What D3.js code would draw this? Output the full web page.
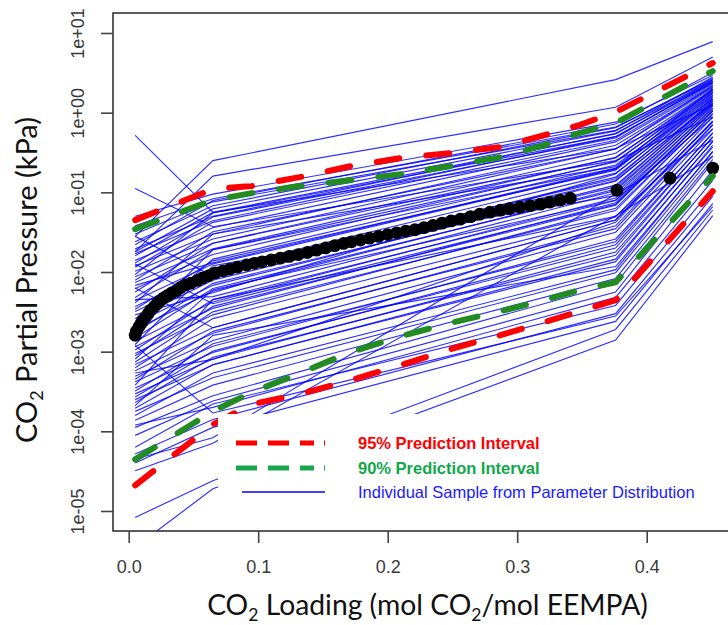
<!DOCTYPE html>
<html>
<head>
<meta charset="utf-8">
<script src="https://cdn.jsdelivr.net/npm/d3@7"></script>
<style>
  body { margin: 0; background: #fff; }
  svg { display: block; }
</style>
</head>
<body>
<svg id="chart" width="728" height="625"></svg>
<script>
// ---- axis ticks ----
const xTicks = [0, 0.1, 0.2, 0.3, 0.4];
const xTickLabels = ["0.0", "0.1", "0.2", "0.3", "0.4"];
const yTicks = [1e-5, 1e-4, 1e-3, 1e-2, 1e-1, 1, 10];
const yTickLabels = ["1e-05", "1e-04", "1e-03", "1e-02", "1e-01", "1e+00", "1e+01"];

// ---- individual parameter samples: CO2 partial pressure (kPa) at each loading ----
const sampleLoading = [0.005, 0.065, 0.376, 0.451];
const samplePressure = [
  [2.8e-2, 0.25, 2.6, 7.8],
  [1.8e-2, 0.16, 1.17, 5.0],
  [0.52, 5.6e-2, 0.355, 1.26],
  [0.112, 3.7e-2, 0.25, 0.89],
  [5.0e-2, 9.5e-2, 0.76, 2.95],
  [3.8e-2, 8.3e-2, 0.66, 2.6],
  [3.0e-2, 7.6e-2, 0.60, 2.5],
  [2.8e-2, 8.9e-3, 0.141, 1.32],
  [1.26e-2, 4.0e-3, 7.1e-2, 1.05],
  [6.3e-3, 2.0e-3, 4.5e-2, 0.76],
  [2.4e-2, 6.8e-2, 0.65, 2.7],
  [2.2e-2, 7.9e-2, 0.72, 3.2],
  [1.95e-2, 5.0e-2, 0.55, 2.45],
  [1.8e-2, 6.2e-2, 0.59, 2.8],
  [1.7e-2, 4.4e-2, 0.50, 2.4],
  [1.6e-2, 5.6e-2, 0.54, 2.6],
  [1.4e-2, 3.6e-2, 0.43, 2.2],
  [1.3e-2, 4.9e-2, 0.48, 2.5],
  [1.2e-2, 3.0e-2, 0.39, 2.1],
  [1.15e-2, 4.2e-2, 0.45, 2.3],
  [1.02e-2, 2.6e-2, 0.35, 2.05],
  [9.3e-3, 5.5e-2, 0.50, 2.35],
  [8.7e-3, 2.3e-2, 0.31, 1.95],
  [7.9e-3, 3.2e-2, 0.35, 2.2],
  [7.4e-3, 1.95e-2, 0.275, 1.85],
  [6.8e-3, 1.3e-2, 0.20, 2.0],
  [6.2e-3, 1.66e-2, 0.245, 1.78],
  [5.6e-3, 2.3e-2, 0.27, 1.95],
  [2.0e-3, 1.45e-2, 0.22, 1.66],
  [4.8e-3, 1.9e-2, 0.24, 1.9],
  [4.4e-3, 1.26e-2, 0.195, 1.6],
  [4.1e-3, 3.0e-2, 0.21, 1.8],
  [3.7e-3, 1.07e-2, 0.174, 1.5],
  [3.4e-3, 1.38e-2, 0.19, 1.74],
  [3.2e-3, 9.3e-3, 0.155, 1.45],
  [2.9e-3, 5.5e-3, 0.17, 1.65],
  [2.6e-3, 7.9e-3, 0.138, 1.38],
  [2.45e-3, 1.0e-2, 0.148, 1.55],
  [2.24e-3, 6.8e-3, 0.123, 1.32],
  [2.04e-3, 1.9e-2, 0.20, 1.48],
  [1.9e-3, 5.75e-3, 0.11, 1.26],
  [1.74e-3, 7.2e-3, 0.117, 1.41],
  [4.5e-3, 4.9e-3, 9.8e-2, 1.2],
  [1.48e-3, 6.2e-3, 0.105, 1.3],
  [1.35e-3, 4.2e-3, 8.5e-2, 1.12],
  [1.23e-3, 1.2e-2, 9.1e-2, 1.23],
  [1.15e-3, 3.5e-3, 7.4e-2, 1.05],
  [1.05e-3, 4.5e-3, 7.9e-2, 1.15],
  [9.5e-4, 2.9e-3, 6.3e-2, 0.95],
  [8.9e-4, 3.7e-3, 6.9e-2, 1.07],
  [8.1e-4, 6.0e-3, 8.0e-2, 0.87],
  [7.4e-4, 3.16e-3, 5.9e-2, 0.98],
  [6.9e-4, 2.0e-3, 4.5e-2, 0.78],
  [6.3e-4, 2.6e-3, 4.9e-2, 0.88],
  [5.75e-4, 1.7e-3, 3.8e-2, 0.71],
  [5.4e-4, 8.0e-4, 4.2e-2, 0.79],
  [4.9e-4, 1.38e-3, 3.16e-2, 0.62],
  [4.5e-4, 1.8e-3, 3.5e-2, 0.70],
  [4.2e-4, 1.17e-3, 2.6e-2, 0.55],
  [3.8e-4, 4.5e-3, 5.0e-2, 0.63],
  [3.5e-4, 9.8e-4, 2.2e-2, 0.49],
  [3.2e-4, 1.26e-3, 2.4e-2, 0.56],
  [2.95e-4, 8.1e-4, 1.78e-2, 0.43],
  [2.7e-4, 1.02e-3, 2.0e-2, 0.50],
  [2.5e-4, 6.8e-4, 1.45e-2, 0.37],
  [2.3e-4, 8.5e-4, 1.62e-2, 0.44],
  [2.1e-4, 1.6e-3, 1.17e-2, 0.32],
  [1.95e-4, 6.9e-4, 1.35e-2, 0.39],
  [1.78e-4, 4.7e-4, 9.8e-3, 0.29],
  [1.58e-4, 5.4e-4, 1.07e-2, 0.33],
  [1.38e-4, 3.8e-4, 8.3e-3, 0.26],
  [1.12e-4, 2.8e-4, 7.1e-3, 0.24],
  [8.9e-5, 2.4e-4, 5.6e-3, 0.19],
  [1.2e-4, 2.0e-4, 4.8e-3, 0.141],
  [6.3e-5, 2.2e-4, 3.8e-3, 0.112],
  [5.2e-5, 1.41e-4, 3.0e-3, 8.9e-2],
  [4.0e-5, 1.12e-4, 2.4e-3, 7.2e-2],
  [1.2e-3, 1.7e-4, 2.8e-3, 6.6e-2],
  [4.5e-5, 8.3e-5, 9.5e-2, 0.45],
  [3.2e-5, 7.1e-5, 5.1e-2, 0.28],
  [8.3e-6, 2.4e-5, 1.9e-3, 6.0e-2],
  [3.5e-6, 1.9e-5, 1.4e-3, 5.1e-2]
];

// ---- prediction interval bounds (kPa) ----
const bandLoading = [0.005, 0.065, 0.095, 0.132, 0.171, 0.21, 0.248, 0.287, 0.321, 0.348, 0.376, 0.451];
const upper95 = [4.48e-2, 0.110, 0.120, 0.155, 0.213, 0.269, 0.311, 0.370, 0.523, 0.699, 1.02, 4.20];
const upper90 = [3.45e-2, 7.98e-2, 9.77e-2, 0.120, 0.142, 0.169, 0.213, 0.277, 0.392, 0.554, 0.740, 3.33];
const lower90 = [4.45e-5, 1.78e-4, 3.09e-4, 5.36e-4, 9.82e-4, 1.56e-3, 2.28e-3, 3.22e-3, 4.43e-3, 5.91e-3, 7.45e-3, 0.160];
const lower95 = [2.10e-5, 1.22e-4, 2.18e-4, 2.92e-4, 4.37e-4, 6.75e-4, 1.07e-3, 1.61e-3, 2.34e-3, 3.22e-3, 4.43e-3, 0.1035];

// ---- measured equilibrium data ----
const measuredLoading = [
  0.005, 0.006, 0.008, 0.010, 0.011, 0.013, 0.015, 0.017, 0.020, 0.022, 0.024, 0.027,
  0.030, 0.033, 0.037, 0.040, 0.044, 0.048, 0.053, 0.057, 0.062, 0.067, 0.073, 0.078,
  0.084, 0.091, 0.097, 0.103, 0.110, 0.117, 0.124, 0.131, 0.138, 0.145, 0.152, 0.159,
  0.166, 0.172, 0.179, 0.186, 0.193, 0.200, 0.207, 0.214, 0.221, 0.228, 0.235, 0.242,
  0.249, 0.256, 0.264, 0.271, 0.279, 0.287, 0.294, 0.302, 0.310, 0.318, 0.325, 0.333,
  0.341, 0.377, 0.418, 0.451
];
const measuredPressure = [
  1.61e-3, 1.82e-3, 2.07e-3, 2.30e-3, 2.50e-3, 2.71e-3, 3.00e-3, 3.33e-3, 3.70e-3, 4.01e-3, 4.30e-3, 4.71e-3,
  5.05e-3, 5.42e-3, 5.84e-3, 6.37e-3, 6.91e-3, 7.23e-3, 7.84e-3, 8.41e-3, 9.02e-3, 9.77e-3, 1.035e-2, 1.084e-2,
  1.152e-2, 1.225e-2, 1.286e-2, 1.343e-2, 1.415e-2, 1.490e-2, 1.570e-2, 1.655e-2, 1.758e-2, 1.879e-2, 2.003e-2, 2.140e-2,
  2.281e-2, 2.395e-2, 2.523e-2, 2.659e-2, 2.800e-2, 2.951e-2, 3.107e-2, 3.265e-2, 3.390e-2, 3.600e-2, 3.840e-2, 4.105e-2,
  4.375e-2, 4.606e-2, 4.955e-2, 5.321e-2, 5.640e-2, 5.970e-2, 6.237e-2, 6.513e-2, 6.80e-2, 7.11e-2, 7.53e-2, 7.98e-2,
  8.45e-2, 0.1064, 0.1507, 0.2014
];

const legendLabels = ["95% Prediction Interval", "90% Prediction Interval", "Individual Sample from Parameter Distribution"];

// ---- layout ----
const plot = { left: 113, top: 13, right: 732, bottom: 531 };
const RED = "#ff0000", GREEN = "#228b22", BLUE = "#0000ff";
const TICK_FONT = "'Liberation Sans', Arial, sans-serif";
const TITLE_FONT = "Lato, 'Open Sans', sans-serif";

const svg = d3.select("#chart");

const x = d3.scaleLinear().domain([-0.01212, 0.46587]).range([plot.left, plot.right]);
const y = d3.scaleLog().domain([5.607e-6, 17.835]).range([plot.bottom, plot.top]);

svg.append("defs").append("clipPath").attr("id", "plot-clip")
  .append("rect")
  .attr("x", plot.left).attr("y", plot.top)
  .attr("width", plot.right - plot.left).attr("height", plot.bottom - plot.top);

const body = svg.append("g").attr("clip-path", "url(#plot-clip)");

// sample curves
const sampleLine = d3.line().x((d, i) => x(sampleLoading[i])).y(d => y(d));
body.append("g")
  .selectAll("path")
  .data(samplePressure)
  .join("path")
  .attr("d", sampleLine)
  .attr("fill", "none")
  .attr("stroke", BLUE)
  .attr("stroke-opacity", 0.82)
  .attr("stroke-width", 1.15);

// measured points
body.append("g")
  .selectAll("circle")
  .data(measuredPressure)
  .join("circle")
  .attr("cx", (d, i) => x(measuredLoading[i]))
  .attr("cy", d => y(d))
  .attr("r", 6.4)
  .attr("fill", "#000");

// prediction interval bounds
const bandLine = d3.line().x((d, i) => x(bandLoading[i])).y(d => y(d));
[[upper95, RED], [lower95, RED], [upper90, GREEN], [lower90, GREEN]].forEach(([vals, col]) => {
  body.append("path")
    .attr("d", bandLine(vals))
    .attr("fill", "none")
    .attr("stroke", col)
    .attr("stroke-width", 6)
    .attr("stroke-linecap", "round")
    .attr("stroke-dasharray", "23,27");
});

// frame
svg.append("rect")
  .attr("x", plot.left).attr("y", plot.top)
  .attr("width", plot.right - plot.left).attr("height", plot.bottom - plot.top)
  .attr("fill", "none").attr("stroke", "#333").attr("stroke-width", 1.6);

// x axis
const xAxis = svg.append("g")
  .attr("transform", `translate(0,${plot.bottom})`)
  .call(d3.axisBottom(x).tickValues(xTicks).tickSize(12).tickFormat((d, i) => xTickLabels[i]));
xAxis.select(".domain").remove();
xAxis.selectAll(".tick line").attr("stroke", "#444").attr("stroke-width", 1.6);
xAxis.selectAll(".tick text")
  .attr("y", 0).attr("dy", null)
  .attr("transform", "translate(0,42)")
  .attr("fill", "#3a3a3a")
  .style("font-family", TICK_FONT).style("font-size", "18px");

// y axis
const yAxis = svg.append("g")
  .attr("transform", `translate(${plot.left},0)`)
  .call(d3.axisLeft(y).tickValues(yTicks).tickSize(12).tickFormat((d, i) => yTickLabels[i]));
yAxis.select(".domain").remove();
yAxis.selectAll(".tick line").attr("stroke", "#444").attr("stroke-width", 1.6);
yAxis.selectAll(".tick text")
  .attr("x", 0).attr("dy", null)
  .attr("text-anchor", "middle")
  .attr("transform", "translate(-29,0) rotate(-90)")
  .attr("fill", "#3a3a3a")
  .style("font-family", TICK_FONT).style("font-size", "18px");

// axis titles with subscripts, sized to their span
function titleText(g, parts, fs) {
  g.selectAll("*").remove();
  const t = g.append("text")
    .attr("text-anchor", "middle")
    .attr("fill", "#111")
    .style("font-family", TITLE_FONT)
    .style("font-size", fs + "px");
  let shifted = false;
  parts.forEach(p => {
    const s = t.append("tspan").text(p.text);
    if (p.sub) {
      s.style("font-size", (fs * 0.62) + "px").attr("dy", fs * 0.22);
      shifted = true;
    } else if (shifted) {
      s.attr("dy", -fs * 0.22);
      shifted = false;
    }
  });
  return t;
}
function fitTitle(g, parts, target) {
  const t = titleText(g, parts, 26);
  const len = t.node().getComputedTextLength();
  return titleText(g, parts, 26 * target / len);
}

const xTitle = svg.append("g").attr("transform", "translate(427.5,615)");
fitTitle(xTitle, [
  { text: "CO" }, { text: "2", sub: true }, { text: " Loading (mol CO" },
  { text: "2", sub: true }, { text: "/mol EEMPA)" }
], 441);

const yTitle = svg.append("g").attr("transform", "translate(37,280) rotate(-90)");
fitTitle(yTitle, [
  { text: "CO" }, { text: "2", sub: true }, { text: " Partial Pressure (kPa)" }
], 326);

// legend
const legend = svg.append("g");
legend.append("rect")
  .attr("x", 218).attr("y", 414).attr("width", 494).attr("height", 94)
  .attr("fill", "#fff");
const legendRows = [
  { y: 443, color: RED, text: "#ff0000", weight: "bold", width: 5, dash: "21,11,21,11,14,10,3" },
  { y: 468, color: "#1aa64a", text: "#10a84a", weight: "bold", width: 5, dash: "21,11,21,11,14,10,3" },
  { y: 492, color: BLUE, text: "#1a1aff", weight: "normal", width: 1.5, dash: null }
];
legendRows.forEach((r, i) => {
  legend.append("line")
    .attr("x1", i === 2 ? 242 : 236).attr("x2", 325)
    .attr("y1", r.y).attr("y2", r.y)
    .attr("stroke", r.color).attr("stroke-width", r.width)
    .attr("stroke-dasharray", r.dash);
  legend.append("text")
    .attr("x", 358).attr("y", r.y + 6)
    .attr("fill", r.text)
    .style("font-family", TICK_FONT)
    .style("font-size", "16.5px")
    .style("font-weight", r.weight)
    .text(legendLabels[i]);
});
</script>
</body>
</html>
